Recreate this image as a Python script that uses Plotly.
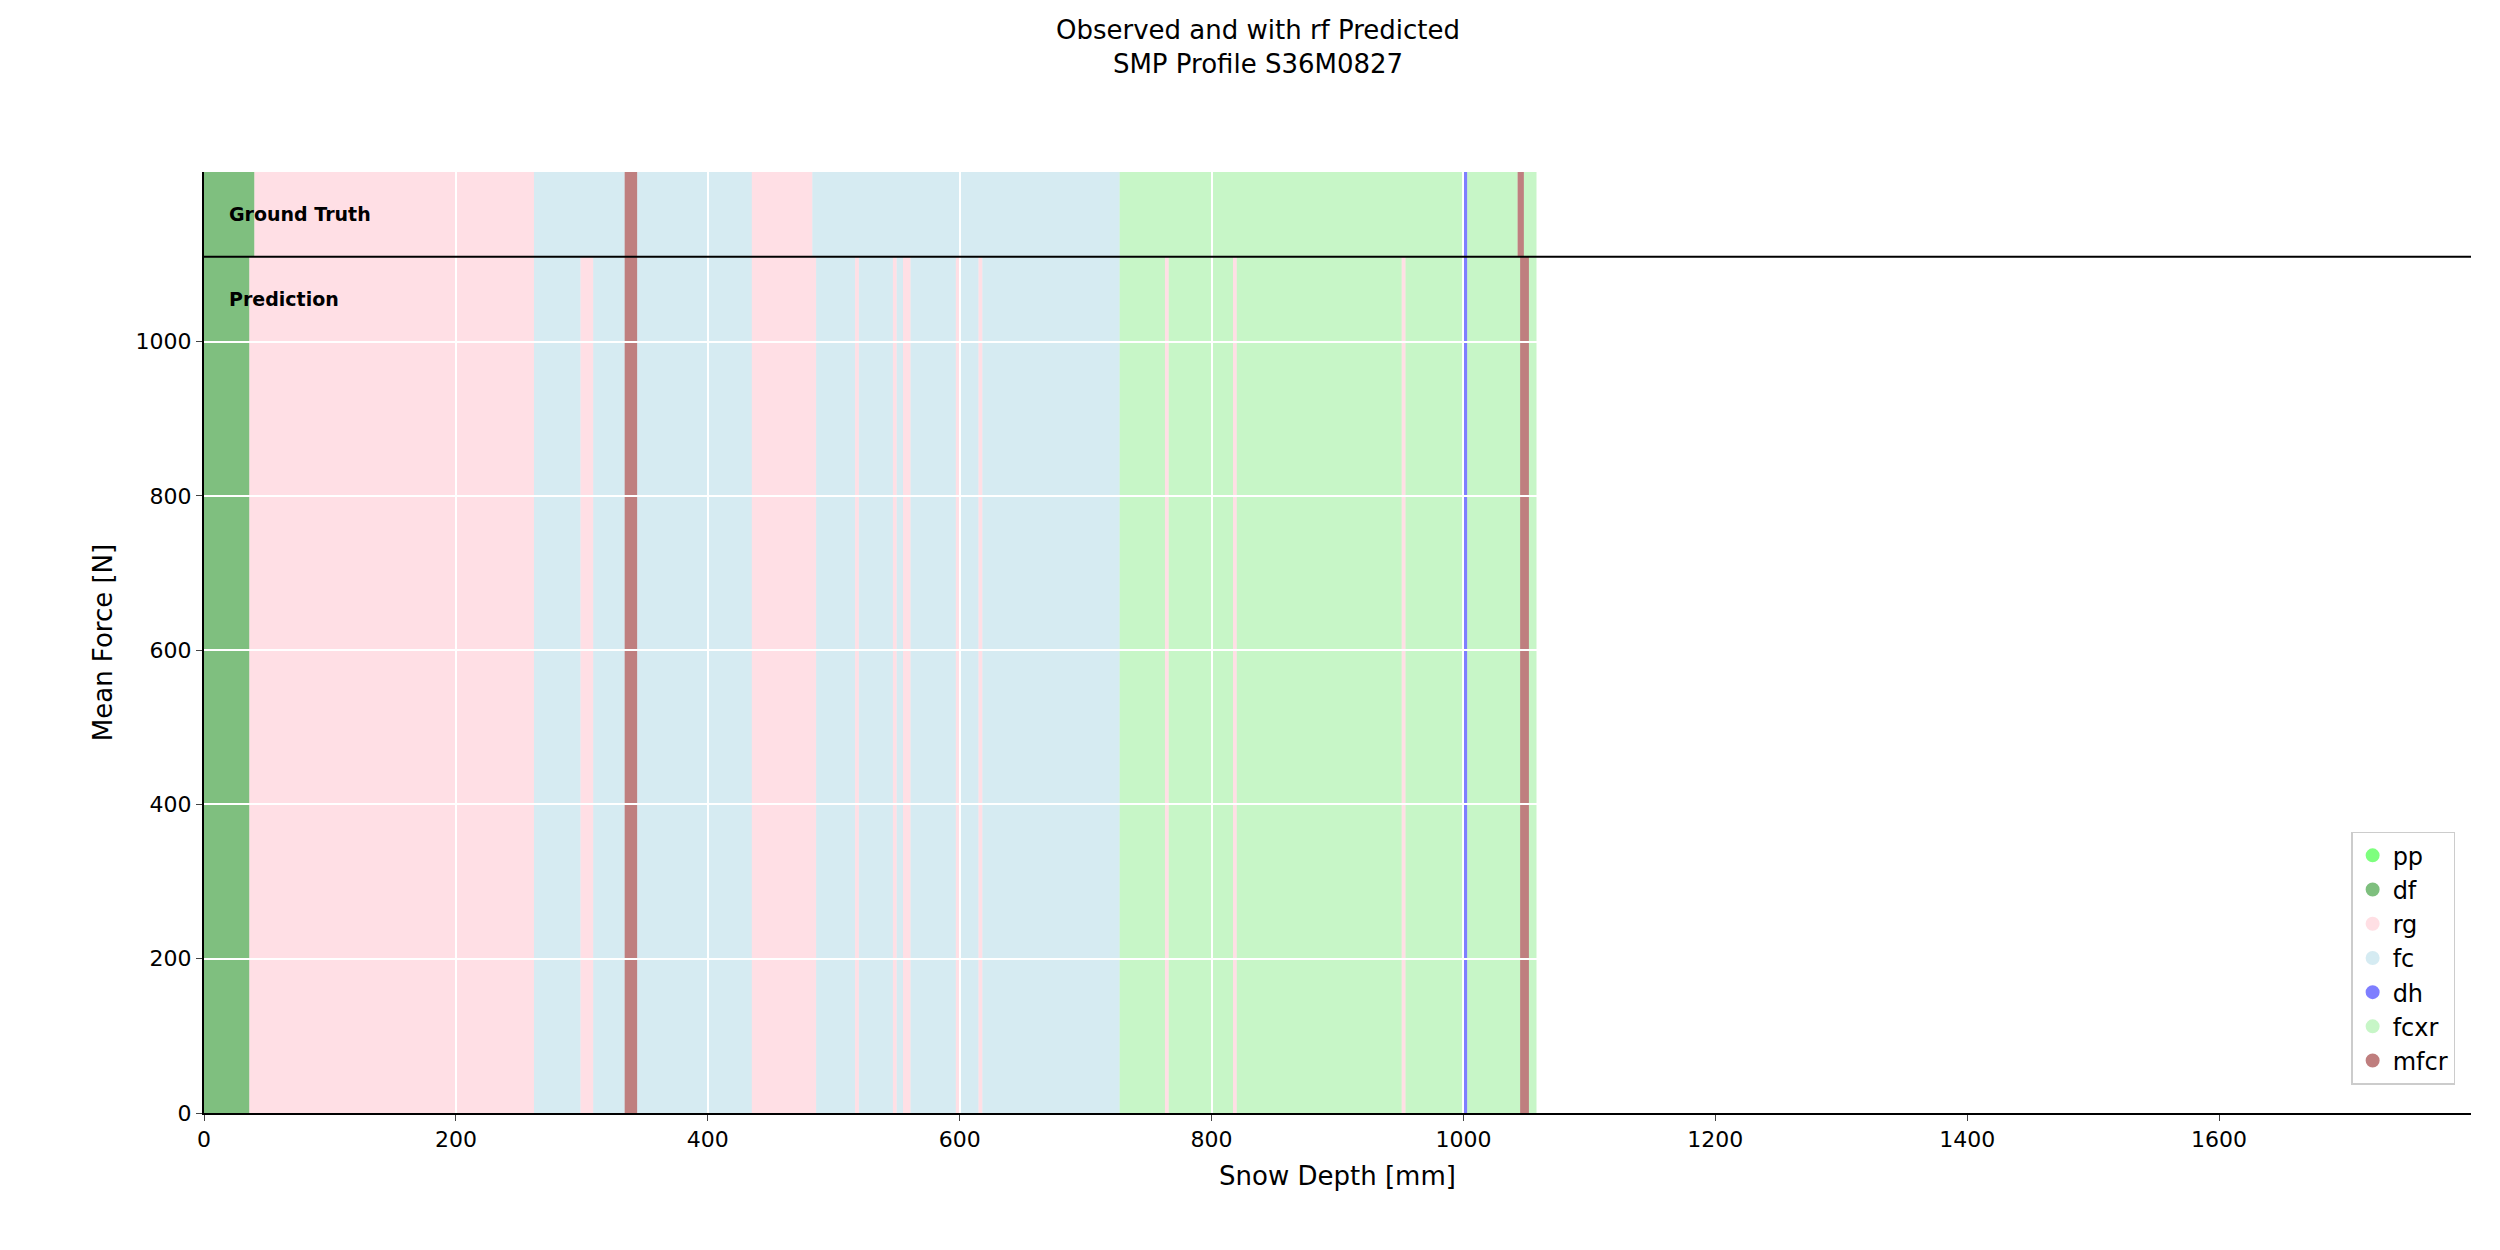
import plotly.graph_objects as go

# grain type legend order and colours
labels = ['pp', 'df', 'rg', 'fc', 'dh', 'fcxr', 'mfcr']
colors = ['lime', 'green', 'pink', 'lightblue', 'blue', 'lightgreen', 'maroon']

# ground truth segments (label, start mm, end mm)
truth_labels = ['df', 'rg', 'fc', 'mfcr', 'fc', 'rg', 'fc', 'fcxr', 'dh', 'fcxr', 'mfcr', 'fcxr']
truth_start = [0, 40, 262, 334, 344, 435, 483, 727, 1000, 1003, 1043, 1048]
truth_end = [40, 262, 334, 344, 435, 483, 727, 1000, 1003, 1043, 1048, 1058]

# predicted segments
pred_labels = ['df', 'rg', 'fc', 'rg', 'fc', 'mfcr', 'fc', 'rg', 'fc', 'rg', 'fc', 'rg', 'fc',
               'rg', 'fc', 'rg', 'fc', 'rg', 'fc', 'fcxr', 'rg', 'fcxr', 'rg', 'fcxr', 'rg',
               'fcxr', 'dh', 'fcxr', 'mfcr', 'fcxr']
pred_start = [0, 36, 262, 299, 309, 334, 344, 435, 486, 517, 520, 547, 550, 555, 561, 597, 600, 615,
              618, 727, 763, 766, 817, 820, 951, 954, 1000, 1003, 1045, 1052]
pred_end = [36, 262, 299, 309, 334, 344, 435, 486, 517, 520, 547, 550, 555, 561, 597, 600, 615, 618,
            727, 763, 766, 817, 820, 951, 954, 1000, 1003, 1045, 1052, 1058]

y_split = 1110
y_top = 1220
x_max = 1800

color_of = dict(zip(labels, colors))

fig = go.Figure()

for lab, s, e in zip(pred_labels, pred_start, pred_end):
    fig.add_shape(type='rect', x0=s, x1=e, y0=0, y1=y_split, xref='x', yref='y',
                  fillcolor=color_of[lab], opacity=0.5, line_width=0, layer='below')
for lab, s, e in zip(truth_labels, truth_start, truth_end):
    fig.add_shape(type='rect', x0=s, x1=e, y0=y_split, y1=y_top, xref='x', yref='y',
                  fillcolor=color_of[lab], opacity=0.5, line_width=0, layer='below')

# legend entries
for lab, col in zip(labels, colors):
    fig.add_trace(go.Scatter(x=[None], y=[None], mode='markers', name=lab,
                             marker=dict(color=col, size=14, opacity=0.5,
                                         line=dict(color=col, width=1))))

fig.add_shape(type='line', x0=0, x1=x_max, y0=y_split, y1=y_split, xref='x', yref='y',
              line=dict(color='black', width=2))

fig.add_annotation(x=18, y=1165, text='<b>Ground Truth</b>', showarrow=False, xanchor='left',
                   font=dict(size=19, color='black'))
fig.add_annotation(x=18, y=1055, text='<b>Prediction</b>', showarrow=False, xanchor='left',
                   font=dict(size=19, color='black'))

fig.update_layout(
    width=2500, height=1250,
    plot_bgcolor='white', paper_bgcolor='white',
    font=dict(family='DejaVu Sans', size=22, color='black'),
    title=dict(text='Observed and with rf Predicted<br>SMP Profile S36M0827', x=0.5,
               xanchor='center', y=0.975, yanchor='top', font=dict(size=26)),
    margin=dict(l=196, r=37, t=164, b=145),
    showlegend=True,
    legend=dict(x=0.993, y=0.03, xanchor='right', yanchor='bottom', bordercolor='#cccccc',
                borderwidth=1.5, bgcolor='white', font=dict(size=24), itemsizing='constant'),
)
fig.update_xaxes(range=[0, x_max], tickvals=list(range(0, 1800, 200)), showgrid=True,
                 gridcolor='white', gridwidth=2, zeroline=False, showline=True, linecolor='black',
                 linewidth=2, ticks='outside', ticklen=6, title=dict(text='Snow Depth [mm]'))
fig.update_yaxes(range=[0, y_top], tickvals=list(range(0, 1200, 200)), showgrid=True,
                 gridcolor='white', gridwidth=2, zeroline=False, showline=True, linecolor='black',
                 linewidth=2, ticks='outside', ticklen=6, title=dict(text='Mean Force [N]'))

fig.write_html('out.html')
